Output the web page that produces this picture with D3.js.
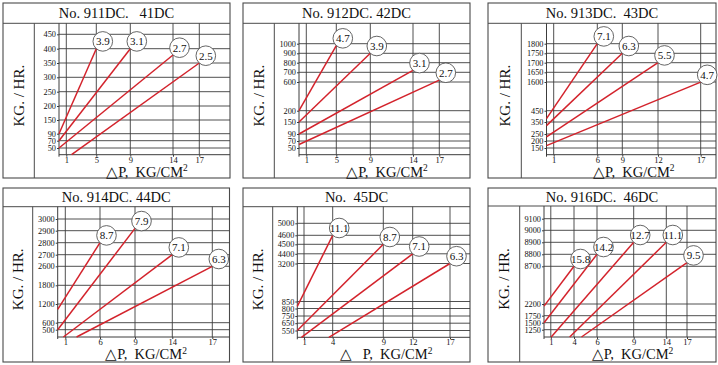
<!DOCTYPE html>
<html><head><meta charset="utf-8">
<script src="https://cdn.jsdelivr.net/npm/d3@7"></script>
<style>
body{margin:0;background:#fff}
svg{display:block}
text{font-family:"Liberation Serif","Times New Roman",serif;fill:#111}
</style>
</head><body>
<svg id="c" width="718" height="365"></svg>
<script>
// ---------- DATA ----------
const panelTitles = ["No. 911DC.   41DC","No. 912DC. 42DC","No. 913DC.  43DC","No. 914DC. 44DC","No.  45DC","No. 916DC.  46DC"];
const yAxisTitle = "KG. / HR.";
const xAxisTitles = ["△P,  KG/CM","△P,  KG/CM","△P,  KG/CM","△P,  KG/CM","△   P,  KG/CM","△P,  KG/CM"];
const xAxisSup = "2";
const xTicks = [[1,5,9,14,17],[1,5,9,14,17],[1,6,9,12,17],[1,6,9,14,17],[1,4,9,12,17],[1,4,6,9,14,17]];
const yTicks = [
  [50,70,90,150,200,250,300,350,400,450],
  [50,70,90,150,200,600,700,800,900,1000],
  [150,200,250,350,450,1600,1650,1700,1750,1800],
  [500,600,1200,1800,2600,2700,2800,2900,3000],
  [550,650,750,800,850,3200,4400,4500,4600,5000],
  [1250,1500,1750,2200,8700,8800,8900,9000,9100]
];
const yFloor = [30,30,100,400,450,1000];   // value at the bottom edge of each grid
const curveLabels = [
  ["3.9","3.1","2.7","2.5"],
  ["4.7","3.9","3.1","2.7"],
  ["7.1","6.3","5.5","4.7"],
  ["8.7","7.9","7.1","6.3"],
  ["11.1","8.7","7.1","6.3"],
  ["15.8","14.2","12.7","11.1","9.5"]
];
const startX = [[0,0,0,1.7],[0,0,0,0],[0,0,0,0],[0,0,0.75,2.62],[0,0,0.62,3.6],[0,0,1.05,3.44,4.65]];
const startY = [[90,70,50,30],[200,150,90,60],[380,320,230,167],[1030,500,400,400],[815,550,450,450],[2120,1500,1000,1000,1000]];
const endX   = [[5,9,14,17],[5,9,14,17],[6,9,12,17],[6,9,14,17],[4,9,12,17],[4,6,9,14,17]];
const endY   = [[400,400,378,350],[980,900,720,620],[1800,1750,1700,1595],[2800,2920,2700,2600],[4600,4500,4400,3200],[8700,8800,8900,8900,8730]];

// ---------- LAYOUT ----------
const frames = [
  {x0:3,  y0:3,   x1:230,  y1:178, tY:23.3,  sX:34.3,  pL:59,    pB:154.7},
  {x0:243,y0:3,   x1:470,  y1:178, tY:23.3,  sX:274.3, pL:299,   pB:154.7},
  {x0:488,y0:3,   x1:716,  y1:178, tY:23.3,  sX:521.3, pL:546.5, pB:154.7},
  {x0:3,  y0:188, x1:229.5,y1:362, tY:206.7, sX:32.7,  pL:57.7,  pB:337},
  {x0:243,y0:188, x1:470,  y1:362, tY:206.7, sX:272.7, pL:297.3, pB:337.3},
  {x0:488,y0:188, x1:716,  y1:362, tY:206,   sX:519.7, pL:544,   pB:337}
];
const xTickPx = [
  [7.3,37.3,71.3,114,140.3],
  [7.3,37.3,71.3,114,140.3],
  [7.2,50.8,75.8,111.5,154.2],
  [7.6,42.3,77.3,114.6,154.6],
  [6.7,35.4,86,115.4,152.7],
  [6.8,30,53,89.7,122.3,143]
];
const yTickPx = [
  [6.7,14,21,34.7,48.7,63,77.4,91.7,106,120.4],
  [6.7,13.7,20.7,32.7,44,72.7,82.4,92,101.4,111],
  [6.7,13.7,20.7,32.7,44,72.7,82.4,92,101.4,111],
  [7.3,14.3,33,51.7,70.7,82.3,94.3,106.3,118],
  [6.8,14.1,21.3,28.8,35.8,73.8,83.5,93,102,114],
  [7.3,14.3,21.3,33,70.7,82.7,94.7,106.7,118.3]
];
const gridCol = "#3c3c3c", frameCol = "#4a4a4a", redCol = "#d3232c";
const circR = 9.8, circDX = 6.5, circDY = -7.3;

const svg = d3.select("#c");

panelTitles.forEach((title, i) => {
  const f = frames[i];
  const g = svg.append("g");
  const x = d3.scaleLinear().domain([0, ...xTicks[i]]).range([f.pL, ...xTickPx[i].map(d => f.pL + d)]);
  const y = d3.scaleLinear().domain([yFloor[i], ...yTicks[i]]).range([f.pB, ...yTickPx[i].map(d => f.pB - d)]);

  // frame
  g.append("rect").attr("x", f.x0).attr("y", f.y0).attr("width", f.x1 - f.x0).attr("height", f.y1 - f.y0)
    .attr("fill", "none").attr("stroke", frameCol).attr("stroke-width", 1.1);
  g.append("line").attr("x1", f.x0).attr("x2", f.x1).attr("y1", f.tY).attr("y2", f.tY)
    .attr("stroke", frameCol).attr("stroke-width", 1);
  g.append("line").attr("x1", f.sX).attr("x2", f.sX).attr("y1", f.tY).attr("y2", f.y1)
    .attr("stroke", frameCol).attr("stroke-width", 1);

  // grid
  g.selectAll("line.hg").data(yTicks[i]).join("line").attr("class", "hg")
    .attr("x1", f.pL).attr("x2", f.x1).attr("y1", d => y(d)).attr("y2", d => y(d))
    .attr("stroke", gridCol).attr("stroke-width", 0.9);
  g.selectAll("line.vg").data(xTicks[i]).join("line").attr("class", "vg")
    .attr("x1", d => x(d)).attr("x2", d => x(d)).attr("y1", f.tY).attr("y2", f.pB)
    .attr("stroke", gridCol).attr("stroke-width", 0.9);
  // axis lines
  g.append("line").attr("x1", f.pL).attr("x2", f.pL).attr("y1", f.tY).attr("y2", f.pB + 2)
    .attr("stroke", gridCol).attr("stroke-width", 1);
  g.append("line").attr("x1", f.pL).attr("x2", f.x1).attr("y1", f.pB).attr("y2", f.pB)
    .attr("stroke", gridCol).attr("stroke-width", 1);

  // axes (labels + small stubs)
  const ya = g.append("g").attr("transform", `translate(${f.pL},0)`)
    .call(d3.axisLeft(y).tickValues(yTicks[i]).tickSizeInner(2).tickSizeOuter(0).tickPadding(1).tickFormat(d3.format("d")));
  ya.select(".domain").remove();
  ya.selectAll("line").attr("stroke", gridCol);
  ya.selectAll("text").attr("font-family", "Liberation Serif").attr("font-size", 8.3).attr("fill", "#111");
  const xa = g.append("g").attr("transform", `translate(0,${f.pB})`)
    .call(d3.axisBottom(x).tickValues(xTicks[i]).tickSizeInner(2).tickSizeOuter(0).tickPadding(0).tickFormat(d3.format("d")));
  xa.select(".domain").remove();
  xa.selectAll("line").attr("stroke", gridCol);
  xa.selectAll("text").attr("font-family", "Liberation Serif").attr("font-size", 8.5).attr("fill", "#111");

  // titles
  g.append("text").attr("x", (f.x0 + f.x1) / 2).attr("y", (f.y0 + f.tY) / 2 + 5)
    .attr("text-anchor", "middle").attr("font-size", 14.5).attr("xml:space", "preserve")
    .style("white-space", "pre").text(title);
  g.append("text").attr("transform", `translate(${(f.x0 + f.sX) / 2 + 5},${(f.tY + f.y1) / 2 - 5}) rotate(-90)`)
    .attr("text-anchor", "middle").attr("font-size", 15).text(yAxisTitle);
  const xt = g.append("text").attr("x", (f.pL + f.x1) / 2 + 2.5).attr("y", f.pB + 22)
    .attr("text-anchor", "middle").attr("font-size", 14.5).attr("xml:space", "preserve")
    .style("white-space", "pre");
  xt.append("tspan").text(xAxisTitles[i]);
  xt.append("tspan").attr("font-size", 9.5).attr("dy", -5.5).text(xAxisSup);

  // curves
  const curves = curveLabels[i].map((lab, k) => ({lab, x0: startX[i][k], y0: startY[i][k], x1: endX[i][k], y1: endY[i][k]}));
  g.selectAll("line.cv").data(curves).join("line").attr("class", "cv")
    .attr("x1", d => x(d.x0)).attr("y1", d => y(d.y0)).attr("x2", d => x(d.x1)).attr("y2", d => y(d.y1))
    .attr("stroke", redCol).attr("stroke-width", 1.5);
  const lg = g.selectAll("g.lb").data(curves).join("g").attr("class", "lb")
    .attr("transform", d => `translate(${x(d.x1) + circDX},${y(d.y1) + circDY})`);
  lg.append("circle").attr("r", circR).attr("fill", "#fff").attr("stroke", "#555").attr("stroke-width", 0.9);
  lg.append("text").attr("text-anchor", "middle").attr("dy", "0.35em").attr("font-size", 11).text(d => d.lab);
});
</script>
</body></html>
